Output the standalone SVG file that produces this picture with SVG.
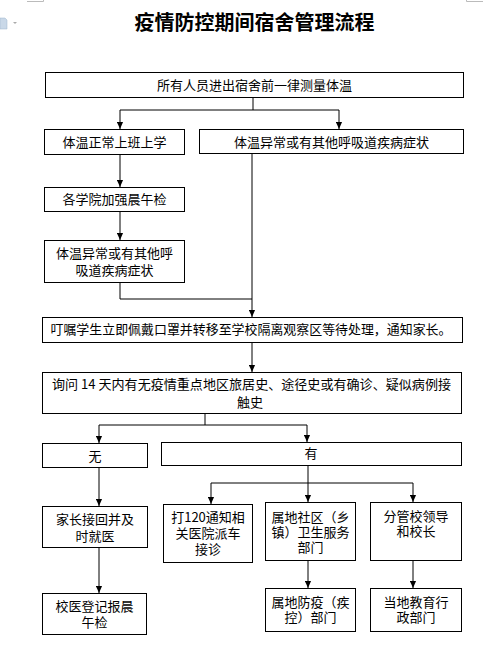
<svg xmlns="http://www.w3.org/2000/svg" width="495" height="654" viewBox="0 0 495 654">
<style>
.b{fill:#fff;stroke:#000;stroke-width:1}
.t{font-family:"Noto Sans CJK SC","Liberation Sans",sans-serif;font-size:13px;fill:#000;text-anchor:middle}
.c{fill:none;stroke:#000;stroke-width:1}
.title{font-family:"Noto Sans CJK SC","Liberation Sans",sans-serif;font-size:20px;font-weight:bold;fill:#000;text-anchor:middle}
</style>
<defs>
<marker id="a" viewBox="0 0 8 8" refX="8" refY="4" markerWidth="7" markerHeight="7" markerUnits="userSpaceOnUse" orient="auto">
<path d="M0,0.5 L8,4 L0,7.5 Z" fill="#000"/>
</marker>
</defs>
<rect width="495" height="654" fill="#fff"/>
<g id="page-marks">
<path d="M27,1.5 H43.5 V0" fill="none" stroke="#bbb" stroke-width="1"/>
<path d="M483,1.5 H466.5 V0" fill="none" stroke="#bbb" stroke-width="1"/>
<path d="M0,18 H5 L7,20 V29 H0 Z" fill="#c9d8e8" stroke="#9fb6cc" stroke-width="0.5"/>
<path d="M13,22 L17,22 L15,24 Z" fill="#aaa"/>
</g>
<text class="title" x="254.5" y="30">疫情防控期间宿舍管理流程</text>
<g id="connectors">
<path class="c" d="M253,97 V110 M120,110 H339"/>
<path class="c" d="M120,110 V129" marker-end="url(#a)"/>
<path class="c" d="M339,110 V129" marker-end="url(#a)"/>
<path class="c" d="M120,154 V187" marker-end="url(#a)"/>
<path class="c" d="M120,211 V240" marker-end="url(#a)"/>
<path class="c" d="M120,282 V299 H252"/>
<path class="c" d="M252,153 V317" marker-end="url(#a)"/>
<path class="c" d="M252,342 V372" marker-end="url(#a)"/>
<path class="c" d="M205,413 V425 M99,425 H307"/>
<path class="c" d="M99,425 V443" marker-end="url(#a)"/>
<path class="c" d="M307,425 V442" marker-end="url(#a)"/>
<path class="c" d="M99,467 V506" marker-end="url(#a)"/>
<path class="c" d="M99,547 V593" marker-end="url(#a)"/>
<path class="c" d="M308,465 V502" marker-end="url(#a)"/>
<path class="c" d="M211,483 H413"/>
<path class="c" d="M211,483 V504" marker-end="url(#a)"/>
<path class="c" d="M413,483 V502" marker-end="url(#a)"/>
<path class="c" d="M308,560 V588" marker-end="url(#a)"/>
<path class="c" d="M413,560 V588" marker-end="url(#a)"/>
</g>
<g id="n1"><rect class="b" x="45.5" y="72.5" width="418" height="25"/><text class="t" x="254.5" y="90">所有人员进出宿舍前一律测量体温</text></g>
<g id="n2"><rect class="b" x="44.5" y="129.5" width="140" height="25"/><text class="t" x="114.5" y="147">体温正常上班上学</text></g>
<g id="n3"><rect class="b" x="199.5" y="129.5" width="264" height="24"/><text class="t" x="331.5" y="147">体温异常或有其他呼吸道疾病症状</text></g>
<g id="n4"><rect class="b" x="44.5" y="187.5" width="140" height="24"/><text class="t" x="114.5" y="204">各学院加强晨午检</text></g>
<g id="n5"><rect class="b" x="44.5" y="240.5" width="140" height="42"/><text class="t" y="258"><tspan x="114.5">体温异常或有其他呼</tspan><tspan x="114.5" dy="17">吸道疾病症状</tspan></text></g>
<g id="n6"><rect class="b" x="42.5" y="317.5" width="420" height="25"/><text class="t" x="251" y="334" textLength="401" lengthAdjust="spacingAndGlyphs">叮嘱学生立即佩戴口罩并转移至学校隔离观察区等待处理，通知家长。</text></g>
<g id="n7"><rect class="b" x="42.5" y="372.5" width="419" height="41"/><text class="t" x="251.5" y="389" textLength="399" lengthAdjust="spacingAndGlyphs">询问 14 天内有无疫情重点地区旅居史、途径史或有确诊、疑似病例接</text><text class="t" x="250" y="407">触史</text></g>
<g id="n8"><rect class="b" x="42.5" y="443.5" width="105" height="24"/><text class="t" x="95" y="461">无</text></g>
<g id="n9"><rect class="b" x="161.5" y="442.5" width="300" height="23"/><text class="t" x="311" y="458">有</text></g>
<g id="n10"><rect class="b" x="42.5" y="506.5" width="105" height="41"/><text class="t" y="524"><tspan x="95">家长接回并及</tspan><tspan x="95" dy="17">时就医</tspan></text></g>
<g id="n11"><rect class="b" x="42.5" y="593.5" width="104" height="41"/><text class="t" y="611"><tspan x="94.5">校医登记报晨</tspan><tspan x="94.5" dy="16">午检</tspan></text></g>
<g id="n12"><rect class="b" x="163.5" y="504.5" width="89" height="58"/><text class="t" y="522"><tspan x="208">打120通知相</tspan><tspan x="208" dy="16">关医院派车</tspan><tspan x="208" dy="16">接诊</tspan></text></g>
<g id="n13"><rect class="b" x="265.5" y="502.5" width="90" height="58"/><text class="t" y="522"><tspan x="310.5">属地社区（乡</tspan><tspan x="310.5" dy="15">镇）卫生服务</tspan><tspan x="310.5" dy="15">部门</tspan></text></g>
<g id="n14"><rect class="b" x="370.5" y="502.5" width="91" height="58"/><text class="t" y="521"><tspan x="416">分管校领导</tspan><tspan x="416" dy="15">和校长</tspan></text></g>
<g id="n15"><rect class="b" x="265.5" y="588.5" width="90" height="43"/><text class="t" y="607"><tspan x="310.5">属地防疫（疾</tspan><tspan x="310.5" dy="15">控）部门</tspan></text></g>
<g id="n16"><rect class="b" x="370.5" y="588.5" width="91" height="43"/><text class="t" y="607"><tspan x="416">当地教育行</tspan><tspan x="416" dy="15">政部门</tspan></text></g>
</svg>
